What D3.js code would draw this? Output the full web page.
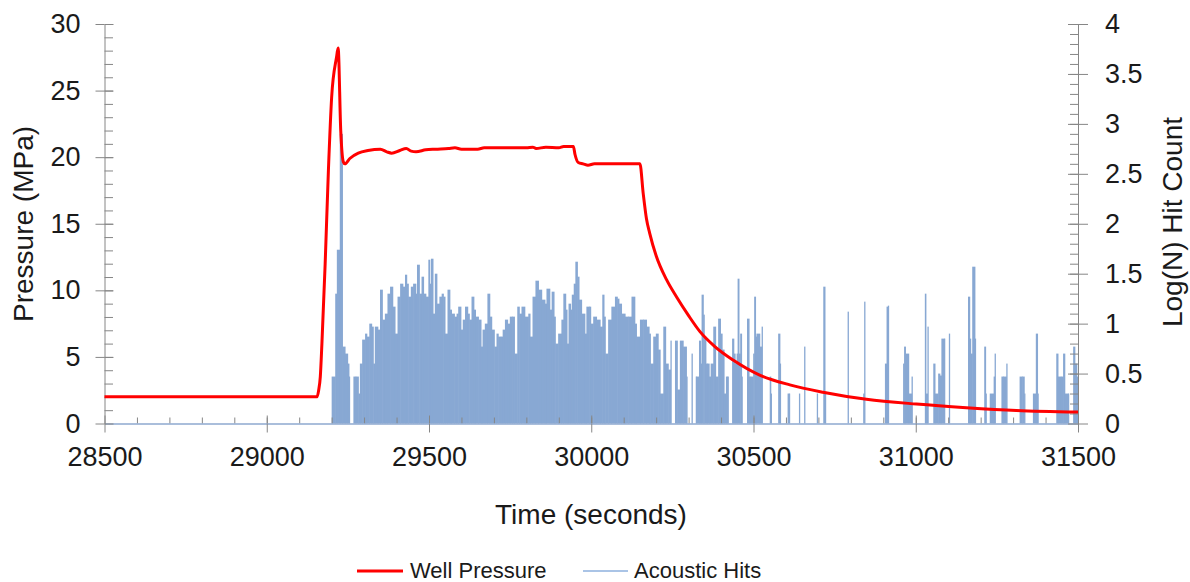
<!DOCTYPE html>
<html>
<head>
<meta charset="utf-8">
<script src="https://cdn.jsdelivr.net/npm/d3@7"></script>
<style>
body{margin:0;background:#fff;}
text{font-family:"Liberation Sans",Arial,sans-serif;fill:#1a1a1a;}
</style>
</head>
<body>
<div id="chart"></div>
<script>
// ---- data ----
// well pressure, [time (s), MPa]
var wellPressure = [
	[28500,2.0],[29155,2.0],[29160,2.5],[29165,3.5],[29170,6],[29180,12],[29190,19],[29200,24.5],
	[29215,27.5],[29220,28.2],[29228,22],[29236,19.65],[29241,19.5],[29256,19.9],[29282,20.3],
	[29312,20.5],[29350,20.6],[29370,20.4],[29385,20.3],[29410,20.5],[29430,20.65],[29445,20.45],
	[29460,20.4],[29490,20.55],[29520,20.6],[29560,20.65],[29580,20.7],[29600,20.6],[29650,20.6],
	[29670,20.7],[29750,20.7],[29800,20.7],[29820,20.75],[29830,20.65],[29860,20.75],[29900,20.7],
	[29915,20.8],[29945,20.8],[29950,20.2],[29960,19.6],[29975,19.5],[29990,19.4],[30010,19.5],
	[30150,19.5],[30160,17.3],[30170,15.4],[30180,14.3],[30200,12.6],[30232,10.8],[30263,9.5],
	[30300,8.1],[30335,6.9],[30380,5.8],[30437,4.77],[30519,3.64],[30612,2.9],[30714,2.35],
	[30848,1.82],[31002,1.46],[31156,1.19],[31310,0.98],[31500,0.86]
];

// acoustic hits, [time (s), log10(N)]
var acousticHits = [
	[29200,0.47],[29211,1.30],[29216,1.74],[29225,2.9],[29233,0.77],[29241,0.70],[29249,0.60],
	[29253,0.47],[29267,0.47],[29274,0.47],[29282,0.30],[29287,0.60],[29294,0.84],[29303,0.90],
	[29308,0.87],[29316,1.00],[29323,0.97],[29328,0.60],[29333,0.97],[29342,0.94],[29349,1.34],
	[29356,1.04],[29364,1.10],[29372,1.30],[29380,1.37],[29388,1.17],[29395,0.90],[29403,1.27],
	[29411,1.40],[29419,1.37],[29426,1.49],[29431,1.40],[29436,1.27],[29444,1.37],[29451,1.40],
	[29459,1.30],[29463,1.59],[29470,1.30],[29477,1.47],[29483,1.30],[29490,1.27],[29498,1.64],
	[29502,1.40],[29506,1.65],[29512,1.10],[29518,1.50],[29524,1.20],[29532,1.27],[29539,1.30],
	[29544,1.27],[29549,0.90],[29557,1.34],[29564,1.14],[29569,1.10],[29578,1.07],[29585,1.10],
	[29590,1.17],[29598,0.94],[29604,1.04],[29611,1.17],[29619,1.10],[29624,1.04],[29631,1.27],
	[29638,1.14],[29643,1.07],[29652,1.04],[29660,0.77],[29665,0.94],[29672,1.00],[29680,1.30],
	[29687,1.07],[29693,0.94],[29701,0.77],[29708,0.90],[29713,0.87],[29721,0.87],[29727,0.94],
	[29734,1.04],[29742,1.00],[29749,1.07],[29756,1.07],[29763,0.70],[29772,1.17],[29778,1.10],
	[29785,1.17],[29795,1.07],[29806,1.10],[29811,0.87],[29819,1.27],[29828,1.43],[29837,1.34],
	[29847,1.24],[29857,1.20],[29862,1.35],[29872,1.14],[29878,1.32],[29885,1.07],[29889,0.80],
	[29898,0.90],[29908,1.04],[29914,1.30],[29921,1.14],[29925,0.80],[29930,1.20],[29936,1.14],
	[29940,1.29],[29946,1.40],[29951,1.62],[29957,1.47],[29962,1.24],[29970,1.10],[29980,0.90],
	[29985,1.17],[29994,1.17],[29998,1.00],[30006,1.07],[30016,1.04],[30027,0.97],[30034,1.29],
	[30039,1.07],[30043,0.70],[30052,1.04],[30062,1.17],[30073,1.27],[30080,1.25],[30085,1.20],
	[30093,1.10],[30104,1.07],[30114,1.07],[30124,1.27],[30134,1.00],[30139,0.87],[30150,1.04],
	[30160,1.04],[30170,0.97],[30178,0.90],[30182,0.60],[30191,0.87],[30199,0.90],[30206,0.74],
	[30212,0.30],[30222,0.97],[30229,0.60],[30237,0.54],[30244,0.83],[30258,0.83],[30265,0.34],
	[30273,0.83],[30283,0.77],[30293,0.47],[30309,0.70],[30322,0.47],[30324,0.47],[30332,0.83],
	[30337,0.60],[30340,1.29],[30345,1.09],[30348,0.87],[30353,0.60],[30358,0.60],[30363,0.47],
	[30368,0.60],[30376,0.97],[30383,0.47],[30391,1.05],[30398,0.90],[30403,0.74],[30409,0.30],
	[30415,0.47],[30420,0.47],[30434,0.85],[30439,0.70],[30443,0.60],[30448,0.70],[30451,1.45],
	[30455,0.70],[30459,0.90],[30463,0.47],[30480,1.05],[30486,0.47],[30491,0.47],[30499,0.70],
	[30502,1.27],[30506,0.87],[30509,0.90],[30519,0.77],[30525,0.97],[30550,0.47],[30553,0.30],
	[30576,0.90],[30581,0.60],[30605,0.30],[30609,0.30],[30640,0.30],[30656,0.77],[30695,0.30],
	[30715,1.37],[30720,0.30],[30790,1.12],[30838,0.30],[30841,1.22],[30905,0.60],[30910,1.17],
	[30914,1.18],[30961,0.60],[30964,0.77],[30968,0.70],[30978,0.30],[30987,0.47],[31028,1.30],
	[31031,0.30],[31036,0.97],[31054,0.60],[31059,0.30],[31069,0.50],[31074,0.48],[31079,0.85],
	[31087,0.85],[31102,0.90],[31161,1.27],[31166,0.85],[31169,0.70],[31174,1.57],[31182,0.85],
	[31211,0.77],[31215,0.30],[31228,0.30],[31240,0.47],[31243,0.70],[31264,0.47],[31270,0.47],
	[31279,0.60],[31320,0.47],[31328,0.47],[31334,0.30],[31361,0.30],[31370,0.90],[31375,0.30],
	[31433,0.70],[31438,0.47],[31447,0.47],[31454,0.70],[31459,0.30],[31469,0.30],[31485,0.77],
	[31490,0.60],[31496,0.47]
];

var xMajor = [28500,29000,29500,30000,30500,31000,31500];
var xMinor = d3.range(28600,31500,100);
var leftMajor = [0,5,10,15,20,25,30];
var leftMinor = d3.range(1,30,1);
var rightMajor = [0,0.5,1,1.5,2,2.5,3,3.5,4];
var rightMinor = d3.range(0.1,4,0.1);

var W = 1190, H = 582;
var svg = d3.select("#chart").append("svg").attr("width", W).attr("height", H);

var x = d3.scaleLinear().domain([28500,31500]).range([104.5,1078]);
var yL = d3.scaleLinear().domain([0,30]).range([423.5,24]);
var yR = d3.scaleLinear().domain([0,4]).range([423.5,24]);

var gray = "#868686";

// acoustic hits as thin columns; close neighbours merge into a filled block
var hitW = acousticHits.map(function(d,i){
	var nx = i < acousticHits.length-1 ? x(acousticHits[i+1][0]) - x(d[0]) : 1.3;
	return nx < 4 ? nx + 0.6 : 1.3;
});
svg.append("g").selectAll("rect").data(acousticHits).enter().append("rect")
	.attr("x", function(d){ return x(d[0]); })
	.attr("y", function(d){ return yR(d[1]); })
	.attr("width", function(d,i){ return hitW[i]; })
	.attr("height", function(d){ return yR(0) - yR(d[1]); })
	.style("fill", "#88a8d3");

// axes
function styleAxis(g, hideDomain){
	g.selectAll(".tick line").attr("stroke", gray);
	g.selectAll("text").style("font-size", "27px").attr("fill", "#1a1a1a");
	if (hideDomain) g.select(".domain").remove();
}

// bottom
svg.append("g").attr("transform", "translate(0,423.5)")
	.call(d3.axisBottom(x).tickValues(xMinor).tickSize(-6).tickFormat(""))
	.call(function(g){ styleAxis(g, true); });
svg.append("g").attr("transform", "translate(0,423.5)")
	.call(d3.axisBottom(x).tickValues(xMajor).tickSize(-8).tickFormat(""))
	.call(function(g){ styleAxis(g, true); });
svg.append("g").attr("transform", "translate(0,423.5)")
	.call(d3.axisBottom(x).tickValues(xMajor).tickSizeInner(9).tickSizeOuter(0).tickPadding(14).tickFormat(d3.format("d")))
	.call(function(g){ styleAxis(g, false); g.select(".domain").attr("stroke", "#8ea9cf").attr("stroke-width", 1.3); });

// left
svg.append("g").attr("transform", "translate(104.5,0)")
	.call(d3.axisLeft(yL).tickValues(leftMinor).tickSize(-8.5).tickFormat(""))
	.call(function(g){ styleAxis(g, true); });
svg.append("g").attr("transform", "translate(104.5,0)")
	.call(d3.axisLeft(yL).tickValues(leftMajor).tickSize(-9).tickFormat(""))
	.call(function(g){ styleAxis(g, true); });
svg.append("g").attr("transform", "translate(104.5,0)")
	.call(d3.axisLeft(yL).tickValues(leftMajor).tickSizeInner(9).tickSizeOuter(0).tickPadding(15).tickFormat(d3.format("d")))
	.call(function(g){ styleAxis(g, false); g.select(".domain").attr("stroke", gray); });

// right
svg.append("g").attr("transform", "translate(1078,0)")
	.call(d3.axisRight(yR).tickValues(rightMinor).tickSize(-8).tickFormat(""))
	.call(function(g){ styleAxis(g, true); });
svg.append("g").attr("transform", "translate(1078,0)")
	.call(d3.axisRight(yR).tickValues(rightMajor).tickSize(-10).tickFormat(""))
	.call(function(g){ styleAxis(g, true); });
svg.append("g").attr("transform", "translate(1078,0)")
	.call(d3.axisRight(yR).tickValues(rightMajor).tickSizeInner(10).tickSizeOuter(0).tickPadding(17).tickFormat(function(d){ return String(d); }))
	.call(function(g){ styleAxis(g, false); g.select(".domain").attr("stroke", gray); });

// pressure line on top
var line = d3.line().curve(d3.curveMonotoneX)
	.x(function(d){ return x(d[0]); }).y(function(d){ return yL(d[1]); });
svg.append("path").datum(wellPressure)
	.attr("d", line)
	.attr("fill", "none")
	.attr("stroke", "#ff0000")
	.attr("stroke-width", 3)
	.attr("stroke-linejoin", "round");

// axis titles
svg.append("text").attr("transform", "translate(33,224) rotate(-90)")
	.attr("text-anchor", "middle").style("font-size", "28px").text("Pressure (MPa)");
svg.append("text").attr("transform", "translate(1182,222) rotate(-90)")
	.attr("text-anchor", "middle").style("font-size", "28px").text("Log(N) Hit Count");
svg.append("text").attr("x", 591).attr("y", 524)
	.attr("text-anchor", "middle").style("font-size", "28px").text("Time (seconds)");

// legend
svg.append("line").attr("x1", 357).attr("x2", 403).attr("y1", 571).attr("y2", 571)
	.attr("stroke", "#ff0000").attr("stroke-width", 3);
svg.append("text").attr("x", 410).attr("y", 578).style("font-size", "22px").text("Well Pressure");
svg.append("line").attr("x1", 583).attr("x2", 628).attr("y1", 571).attr("y2", 571)
	.attr("stroke", "#8eb1de").attr("stroke-width", 1.5);
svg.append("text").attr("x", 634).attr("y", 578).style("font-size", "22px").text("Acoustic Hits");
</script>
</body>
</html>
